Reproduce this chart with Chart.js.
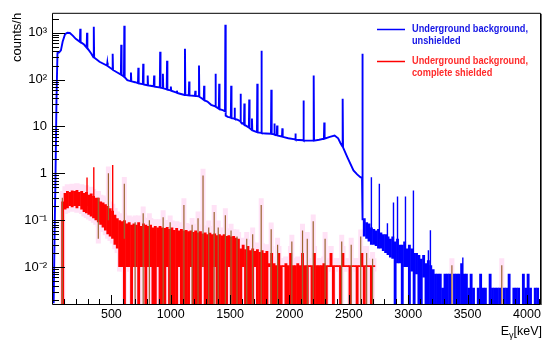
<!DOCTYPE html>
<html><head><meta charset="utf-8">
<script src="https://cdn.jsdelivr.net/npm/chart.js@4.4.1/dist/chart.umd.min.js"></script>
<style>html,body{margin:0;padding:0;background:#fff;}#wrap{width:550px;height:346px;}</style>
</head><body><div id="wrap"><canvas id="c" width="550" height="346"></canvas></div>
<script>
// ---------- DATA ----------
const seriesNames = [["Underground background,", "unshielded"], ["Underground background,", "complete shielded"]];
const xTickValues = [500, 1000, 1500, 2000, 2500, 3000, 3500, 4000];
const xTickLabels = ["500", "1000", "1500", "2000", "2500", "3000", "3500", "4000"];
const yTickValues = [0.01, 0.1, 1, 10, 100, 1000];
const yTickLabels = ["10\u207B\u00B2", "10\u207B\u00B9", "1", "10", "10\u00B2", "10\u00B3"];
const xTitle = ["E", "\u03B3", "[keV]"];
const yTitle = "counts/h";

// unshielded spectrum (energy keV, counts/h) up to the 2614 keV line
const blueE = [14,22,29,38,46,60,75,90,110,130,150,175,200,235,238,241,270,292,295,298,330,349,352,355,400,463,466,469,
  508,511,514,550,580,583,586,606,609,612,634,662,665,668,700,724,727,730,765,768,771,803,806,809,828,857,860,863,
  908,911,914,931,934,937,966,969,972,998,1001,1004,1049,1052,1055,1078,1117,1120,1123,1152,1155,1158,1204,1207,1210,
  1235,1238,1241,1260,1278,1281,1284,1309,1340,1374,1377,1380,1405,1408,1411,1443,1457,1460,1463,1480,1506,1509,1512,
  1535,1538,1541,1561,1585,1588,1591,1617,1620,1623,1658,1661,1664,1681,1684,1687,1726,1729,1732,1761,1764,1767,1800,
  1844,1847,1850,1870,1873,1876,1893,1896,1899,1937,1940,1943,1990,2047,2050,2053,2115,2118,2121,2160,2201,2204,2207,
  2250,2290,2293,2296,2340,2380,2410,2430,2445,2448,2451,2488,2539,2570,2597,2611,2614,2617];
const blueV = [0.0017,0.05,0.7,40,370,380,420,650,930,1000,990,870,740,640,1216,630,560,480,1000,470,360,300,1340,295,240,200,230,195,
  165,357,160,142,128,555,127,115,1410,113,97,93,141,92,88,84,180,83,80,219,79,76,122,75,74,72,122,71,
  68,394,67,66,134,65,62,254,61,59,71,58,53,58,52,50,47,456,47,46,91,46,45,58,45,
  44,199,43,40,37,74,36,34,29,27,134,26.5,24,82,23.5,22,21,1480,17,16,15.5,74,15,
  14.8,25,14.5,14,13,50,12.5,11,31,10.8,9.5,37.5,9.3,8.5,14.8,8.3,7.6,82,7.5,7.3,414,7.2,7.1,
  7.0,61,6.9,6.8,11.6,6.7,6.5,10.5,6.4,6.1,9.1,6.0,5.6,5.3,7.1,5.2,5.1,36,5.0,5.0,5.0,122,5.0,
  5.2,5.5,12.2,5.5,6.0,6.4,5.6,4.4,3.8,39,3.6,2.2,1.15,0.95,0.83,0.8,357,0.1];

// unshielded spectrum above 2614 keV: 20 keV bins from 2620 keV, lower/upper extent of the histogram in each bin (0 = empty bin)
const blueBinStart = 2620, blueBinWidth = 20;
const blueHi = [0.11,0.09,0.085,0.07,0.065,0.06,0.065,0.055,0.05,0.05,0.045,0.04,0.045,0.035,0.04,0.03,0.03,0.035,0.025,0.03,
  0.025,0.02,0.02,0.018,0.015,0.018,0.012,0.014,0.011,0.009,0.0072,0.0072,0.0072,0.0036,0.0072,0.0072,0.0072,0,0.0072,0.0072,
  0.0072,0.012,0.0072,0.0072,0.0036,0.0072,0.0036,0,0.0036,0.0072,0.0036,0.0036,0,0.0072,0.0036,0.0036,0.0036,0.0036,0,0.0036,
  0.0036,0.0072,0,0.0036,0.0036,0.0036,0,0.0072,0.0036,0.0072,0.0036,0,0.0036,0.0036];
const blueLo = [0.045,0.04,0.035,0.03,0.03,0.028,0.025,0.025,0.022,0.02,0.018,0.016,0.015,0,0.012,0.012,0,0.01,0.01,0,
  0.008,0,0.007,0,0,0.006,0,0,0,0,0,0,0,0,0,0,0,0,0,0,
  0,0,0,0,0,0,0,0,0,0,0,0,0,0,0,0,0,0,0,0,
  0,0,0,0,0,0,0,0,0,0,0,0,0,0];
const blueSpikeE  = [2690,2757,2825,2876,2910,2977,3044,3170,3187,3460];
const blueSpikeLo = [0.05,0.04,0.03,0.02,0.02,0.015,0.01,0,0,0];
const blueSpikeHi = [0.83,0.6,0.086,0.24,0.32,0.32,0.43,0.023,0.061,0.016];

// shielded spectrum: 20 keV bins from 80 keV
const redBinStart = 80, redBinWidth = 20;
const redHi = [0.25,0.38,0.42,0.4,0.43,0.42,0.44,0.4,0.42,0.38,0.4,0.35,0.37,0.33,0.3,0.3,0.25,0.24,0.22,0.2,
  0.18,0.16,0.13,0.11,0.1,0.095,0.1,0.085,0.09,0.08,0.085,0.08,0.09,0.075,0.085,0.08,0.075,0.08,0.07,0.075,
  0.07,0.075,0.07,0.068,0.072,0.065,0.07,0.062,0.068,0.06,0.065,0.06,0.062,0.058,0.06,0.056,0.06,0.055,0.058,0.052,
  0.055,0.05,0.054,0.05,0.052,0.048,0.05,0.047,0.05,0.046,0.048,0.045,0.046,0.042,0.04,0.025,0.03,0.024,0.028,0.023,
  0.025,0.022,0.024,0.021,0.023,0.02,0.022,0.012,0.02,0.012,0.011,0.02,0.011,0.011,0.012,0.011,0.02,0.011,0.011,0.012,
  0.011,0.02,0.011,0.011,0.011,0.011,0.02,0.011,0.011,0.011,0.012,0.011,0.011,0.02,0.011,0.011,0.011,0.011,0.02,0.011,
  0.011,0.011,0.011,0.011,0.011,0.011,0.02,0.011,0.011,0.011,0.011,0.011];
const redLo = [0,0.17,0.18,0.2,0.19,0.2,0.18,0.2,0.17,0.15,0.14,0.13,0.12,0.11,0.1,0.09,0.08,0.07,0.06,0.05,
  0.045,0.04,0.03,0.025,0.01,0.01,0,0.01,0.01,0,0.01,0.01,0,0.01,0.01,0,0.01,0.01,0,0,
  0.01,0,0,0,0.01,0,0,0,0,0.01,0,0,0,0,0.01,0,0,0,0,0.01,
  0,0,0,0,0.01,0,0,0,0,0,0.01,0,0,0,0,0,0.01,0,0,0,
  0,0.01,0,0,0,0,0,0.01,0,0,0,0,0,0.01,0,0,0,0,0,0,
  0,0,0,0,0.01,0,0,0,0,0,0,0,0.01,0.01,0,0.01,0.01,0,0.01,0.01,
  0.01,0,0.01,0.01,0,0.01,0.01,0,0.01,0.01,0,0.01];
const redSpikeE  = [295,352,511];
const redSpikeLo = [0.2,0.15,0.05];
const redSpikeHi = [0.82,1.35,1.5];
const errSpikeE  = [87,390,475,609,700,768,820,936,995,1111,1180,1230,1272,1320,1366,1400,1460,1508,1558,1640,1690,1762,1846,
  1900,2020,2110,2150,2200,2300,2440,2520,2600,2650,2700,3368,3788];
const errSpikeLo = [0,0.04,0.1,0.04,0,0,0,0,0,0,0,0,0.01,0,0,0,0,0,0,0,0,0,0,
  0,0,0,0,0,0,0,0,0,0,0,0,0];
const errSpikeHi = [0.3,0.3,1.0,0.6,0.09,0.14,0.1,0.116,0.09,0.21,0.08,0.11,0.9,0.07,0.15,0.07,0.128,0.06,0.045,0.04,0.05,0.21,0.064,
  0.03,0.035,0.06,0.04,0.095,0.04,0.035,0.03,0.045,0.02,0.015,0.011,0.011];

// ---------- CHART ----------
const FONT = "'Liberation Sans', Arial, Helvetica, sans-serif";
const Y_MIN = 0.00163, Y_MAX = 2665;
const FLOOR = 0.001; // empty bins are drawn down to below the axis floor (log scale cannot show 0)
const fl = v => (v > 0 ? v : FLOOR);
const binPts = (start, width, lo, hi) => lo.map((l, i) => ({x: start + width * (i + 0.5), y: [fl(l), fl(hi[i])]})).filter(p => p.y[1] > FLOOR);
const spikePts = (E, lo, hi) => E.map((e, i) => ({x: e, y: [fl(lo[i]), hi[i]]}));
const haloPts = (pts) => pts.map(p => ({x: p.x, y: [p.y[0] * 0.8, p.y[1] * 1.4]}));

const redBins = binPts(redBinStart, redBinWidth, redLo, redHi);
const blueBins = binPts(blueBinStart, blueBinWidth, blueLo, blueHi);
const errSpikes = spikePts(errSpikeE, errSpikeLo, errSpikeHi);

// all bar sets share one stack slot so they sit exactly on their x values; the value axis is not stacked
const barBase = {type: 'bar', stack: 'h', borderWidth: 0, inflateAmount: 0};
const datasets = [
  Object.assign({}, barBase, {label: 'halo', data: haloPts(redBins), backgroundColor: '#ffe2f6', order: 20, _bin: 1, _extra: 3}),
  Object.assign({}, barBase, {label: 'halo2', data: haloPts(errSpikes), backgroundColor: '#ffe2f6', order: 19, barThickness: 5}),
  {type: 'line', label: seriesNames[0].join(' '), data: blueE.map((e, i) => ({x: e, y: blueV[i]})),
    borderColor: '#0000ff', borderWidth: 1.9, pointRadius: 0, tension: 0, fill: false, order: 15},
  Object.assign({}, barBase, {label: 'blueBins', data: blueBins, backgroundColor: '#0000ff', order: 14, _bin: 1, _extra: 0.5}),
  Object.assign({}, barBase, {label: 'blueSpikes', data: spikePts(blueSpikeE, blueSpikeLo, blueSpikeHi), backgroundColor: '#0000ff', order: 13, barThickness: 1.4}),
  Object.assign({}, barBase, {label: seriesNames[1].join(' '), data: redBins, backgroundColor: '#ff0000', order: 12, _bin: 1, _extra: 0.5}),
  Object.assign({}, barBase, {label: 'redSpikes', data: spikePts(redSpikeE, redSpikeLo, redSpikeHi), backgroundColor: '#ff0000', order: 11, barThickness: 1.4}),
  Object.assign({}, barBase, {label: 'errSpikes', data: errSpikes, backgroundColor: '#9c6530', order: 10, barThickness: 1.2})
];
datasets.forEach(ds => { if (ds._bin) ds.barThickness = 2.4 + ds._extra; });

const decor = {
  id: 'decor',
  afterDatasetsDraw(chart) {
    const {ctx, chartArea: a, scales: {x, y}} = chart;
    ctx.save();
    ctx.strokeStyle = '#000'; ctx.lineWidth = 1;
    ctx.beginPath();
    for (let d = -3; d <= 3; d++) {
      for (let m = 1; m <= 9; m++) {
        const v = m * Math.pow(10, d);
        if (v < y.min || v > y.max) continue;
        const py = Math.round(y.getPixelForValue(v)) + 0.5;
        const len = m === 1 ? 13 : 7;
        ctx.moveTo(a.left, py); ctx.lineTo(a.left + len, py);
      }
    }
    for (let e = 0; e <= x.max; e += 100) {
      const px = Math.round(x.getPixelForValue(e)) + 0.5;
      const len = e % 500 === 0 ? 9 : 5;
      ctx.moveTo(px, a.bottom); ctx.lineTo(px, a.bottom - len);
    }
    ctx.stroke();
    ctx.beginPath();
    ctx.moveTo(a.left + 0.5, a.bottom + 0.5); ctx.lineTo(a.left + 0.5, a.top + 0.5);
    ctx.lineTo(a.right + 0.5, a.top + 0.5); ctx.lineTo(a.right + 0.5, a.bottom + 0.5);
    ctx.lineTo(a.left + 0.5, a.bottom + 0.5);
    ctx.stroke();
    ctx.strokeStyle = '#666';
    ctx.beginPath(); ctx.moveTo(a.right + 1.5, a.top + 1); ctx.lineTo(a.right + 1.5, a.bottom + 1); ctx.stroke();
    ctx.fillStyle = '#000';
    ctx.font = '13px ' + FONT;
    ctx.save();
    ctx.translate(17, a.top);
    ctx.rotate(-Math.PI / 2);
    ctx.textAlign = 'right'; ctx.textBaseline = 'middle';
    ctx.fillText(yTitle, 0, 0);
    ctx.restore();
    ctx.textBaseline = 'alphabetic'; ctx.textAlign = 'left';
    ctx.font = '12.5px ' + FONT;
    const wE = ctx.measureText(xTitle[0]).width, wK = ctx.measureText(xTitle[2]).width;
    ctx.font = '9px ' + FONT;
    const wG = ctx.measureText(xTitle[1]).width;
    let xx = 542 - wE - wG - wK;
    ctx.font = '12.5px ' + FONT; ctx.fillText(xTitle[0], xx, 335); xx += wE;
    ctx.font = '9px ' + FONT; ctx.fillText(xTitle[1], xx, 338); xx += wG;
    ctx.font = '12.5px ' + FONT; ctx.fillText(xTitle[2], xx, 335);
    const leg = [{c: '#0000ff', t: '#1515e6', y: 29, names: seriesNames[0]}, {c: '#ff0000', t: '#ff2b2b', y: 61, names: seriesNames[1]}];
    ctx.font = 'bold 10px ' + FONT;
    ctx.textBaseline = 'middle';
    leg.forEach(L => {
      ctx.strokeStyle = L.c; ctx.lineWidth = 1.5;
      ctx.beginPath(); ctx.moveTo(377, L.y + 0.5); ctx.lineTo(405, L.y + 0.5); ctx.stroke();
      ctx.fillStyle = L.t;
      L.names.forEach((s, k) => {
        ctx.save(); ctx.translate(412, L.y + k * 12); ctx.scale(0.92, 1); ctx.fillText(s, 0, 0); ctx.restore();
      });
    });
    ctx.restore();
  }
};

const chart = new Chart(document.getElementById('c').getContext('2d'), {
  type: 'bar',
  data: {datasets},
  options: {
    responsive: false, animation: false, events: [],
    layout: {padding: {left: 0, top: 12, right: 10, bottom: 0}},
    plugins: {legend: {display: false}, tooltip: {enabled: false}},
    scales: {
      x: {type: 'linear', min: 0, max: 4110, offset: false,
        grid: {display: false, drawTicks: false}, border: {display: false},
        afterBuildTicks: s => { s.ticks = xTickValues.map(v => ({value: v})); },
        afterFit: s => { s.height = 42; },
        ticks: {autoSkip: false, maxRotation: 0, padding: 3, color: '#000', font: {family: FONT, size: 12.5},
          callback: v => { const i = xTickValues.indexOf(v); return i >= 0 ? xTickLabels[i] : ''; }}},
      y: {type: 'logarithmic', min: Y_MIN, max: Y_MAX, stacked: false,
        grid: {display: false, drawTicks: false}, border: {display: false},
        afterBuildTicks: s => { s.ticks = yTickValues.map(v => ({value: v})); },
        afterFit: s => { s.width = 52; },
        ticks: {autoSkip: false, padding: 5, color: '#000', font: {family: FONT, size: 13},
          callback: v => { const i = yTickValues.indexOf(v); return i >= 0 ? yTickLabels[i] : ''; }}}
    }
  },
  plugins: [decor]
});
// match histogram bar width to the bin width on the x scale
const sx = chart.scales.x;
const binPx = sx.getPixelForValue(redBinWidth) - sx.getPixelForValue(0);
chart.data.datasets.forEach(ds => { if (ds._bin) ds.barThickness = binPx + ds._extra; });
chart.update('none');
</script></body></html>
